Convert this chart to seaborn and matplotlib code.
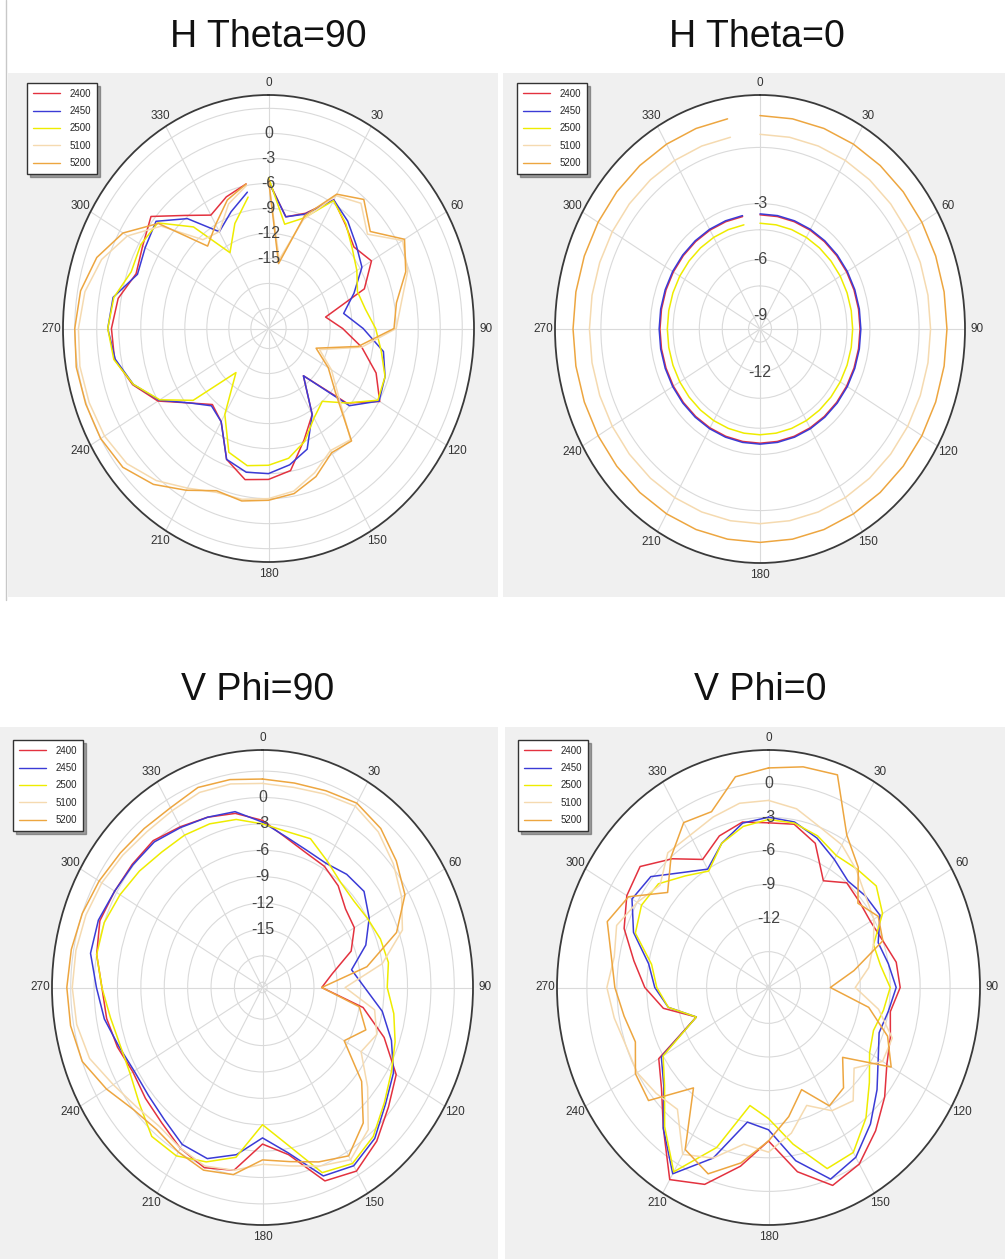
import matplotlib
matplotlib.use("Agg")
import matplotlib.pyplot as plt
import numpy as np
import pandas as pd
import seaborn as sns
from matplotlib.lines import Line2D
from matplotlib.patches import Rectangle

sns.set_style("white")
plt.rcParams['font.family'] = ['Liberation Sans', 'DejaVu Sans']
NARROW = ['Liberation Sans Narrow', 'Liberation Sans', 'DejaVu Sans']

W, H = 1005, 1259

FREQS = ["2400", "2450", "2500", "5100", "5200"]
COLORS = ["#e3323f", "#3b3bd6", "#eeec00", "#f5dab0", "#eda640"]
ANGLES = list(range(0, 360, 10))
THETA_TICKS = list(range(0, 360, 30))
THETA_LABELS = [str(a) for a in THETA_TICKS]

# H Theta=90  (dB per 10 deg, 0..350)
h90_2400 = [-5.7, -9.8, -8.7, -5.6, -7.1, -8.2, -7.2, -9.5, -15.5, -13.3, -10.5, -7.8,
            -5.9, -9.5, -16.0, -11.5, -9.2, -6.1, -5.3, -5.0, -6.7, -10.5, -11.5, -9.5,
            -6.0, -3.7, -2.1, -2.0, -2.6, -4.2, -3.6, -2.5, -5.7, -7.7, -6.6, -5.8]
h90_2450 = [-5.8, -9.8, -8.8, -5.6, -6.6, -7.8, -8.7, -11.0, -13.0, -10.5, -7.5, -6.5,
            -6.0, -9.0, -16.0, -11.5, -8.0, -6.8, -6.0, -5.9, -6.7, -10.5, -11.3, -9.5,
            -6.2, -3.8, -2.2, -1.5, -1.9, -4.4, -4.0, -3.4, -6.2, -10.0, -8.5, -6.8]
h90_2500 = [-5.3, -10.7, -9.3, -5.7, -7.0, -8.5, -9.5, -10.5, -10.0, -8.8, -7.8, -6.5,
            -6.2, -9.5, -12.0, -11.0, -9.0, -7.6, -7.0, -6.7, -7.6, -11.5, -16.5, -10.0,
            -6.3, -3.8, -2.0, -1.5, -2.0, -3.5, -3.3, -3.7, -7.5, -12.9, -10.0, -7.4]
h90_5100 = [-5.6, -15.0, -9.5, -5.0, -3.8, -5.8, -2.3, -3.2, -5.0, -6.0, -10.5, -16.0,
            -13.5, -11.0, -6.0, -6.5, -5.0, -3.6, -3.0, -2.6, -2.5, -1.3, 0.4, 1.8,
            2.4, 2.6, 2.7, 2.5, 2.0, 0.8, -1.2, -4.3, -9.5, -10.0, -7.5, -6.0]
h90_5200 = [-5.5, -15.5, -9.0, -4.8, -3.2, -5.3, -2.0, -3.5, -5.7, -6.3, -11.0, -16.5,
            -14.0, -11.5, -5.8, -6.2, -4.5, -3.3, -2.8, -2.4, -2.7, -1.0, 1.0, 2.5,
            3.0, 3.1, 3.2, 3.0, 2.6, 1.5, -0.5, -3.8, -10.5, -9.0, -7.0, -5.8]

# H Theta=0
h0_2400 = [-3.6] * 36
h0_2450 = [-3.55] * 36
h0_2500 = [-4.05] * 36
h0_5100 = [0.7] * 36
h0_5200 = [1.7] * 36

# V Phi=90
v90_2400 = [-2.6, -4.3, -5.3, -5.7, -6.5, -7.7, -8.0, -9.5, -12.5, -14.0, -8.5, -5.0,
            -1.8, -0.5, 1.2, 2.5, 1.8, -2.3, -3.8, -0.5, 0.2, -0.5, -1.5, -2.0,
            -2.4, -1.8, -1.3, -1.0, 0.0, 0.6, 0.3, 0.2, 0.2, -0.5, -1.0, -1.5]
v90_2450 = [-2.8, -4.2, -5.0, -5.3, -4.8, -4.6, -5.8, -7.5, -10.0, -8.5, -6.0, -4.0,
            -2.2, -1.0, 0.8, 1.8, 1.2, -2.5, -4.5, -2.3, -0.9, -1.0, -2.0, -2.5,
            -2.6, -2.0, -1.0, -0.3, 0.8, 0.8, 0.3, 0.1, 0.0, -0.6, -1.0, -1.3]
v90_2500 = [-3.0, -3.6, -3.6, -5.0, -6.0, -6.3, -6.0, -5.5, -5.2, -5.6, -4.5, -3.5,
            -2.5, -1.2, 0.5, 1.5, 0.8, -3.5, -6.0, -2.0, -0.5, 0.5, 0.5, -1.0,
            -2.0, -2.2, -1.8, -1.0, 0.0, 0.0, -0.5, -1.0, -1.5, -1.6, -1.8, -2.2]
v90_5100 = [1.6, 1.5, 1.8, 2.2, 1.5, 0.3, -1.0, -2.5, -6.0, -11.0, -7.0, -6.0,
            -7.0, -4.0, -0.5, 1.0, 0.0, -1.0, -1.5, -0.5, 0.0, -0.5, -1.0, -0.5,
            0.5, 2.0, 2.6, 2.8, 2.7, 2.5, 2.2, 1.8, 1.5, 1.6, 2.0, 1.9]
v90_5200 = [2.1, 2.0, 2.2, 2.6, 2.0, 0.8, -0.5, -3.3, -8.0, -14.0, -9.0, -7.5,
            -9.5, -5.0, -1.5, 0.5, -0.5, -1.5, -2.0, 0.0, 0.5, 0.0, -0.5, 0.0,
            1.5, 3.0, 3.4, 3.5, 3.3, 3.0, 2.6, 2.2, 2.0, 2.0, 2.6, 2.4]

# V Phi=0
v0_2400 = [-3.5, -3.4, -4.5, -7.2, -6.0, -6.3, -6.4, -6.0, -5.2, -5.0, -5.8, -5.2,
           -4.5, -3.0, -1.5, 0.0, 0.6, -1.5, -4.5, -2.0, 0.5, 1.6, -1.8, -4.2,
           -5.5, -10.5, -7.5, -5.8, -4.5, -2.8, -1.8, -1.4, -3.2, -5.0, -3.8, -3.2]
v0_2450 = [-3.0, -3.2, -4.0, -5.0, -5.8, -5.5, -5.3, -6.5, -6.0, -5.4, -6.0, -6.4,
           -5.5, -4.0, -2.3, -0.7, 0.0, -2.5, -5.5, -6.0, -2.0, 1.0, -1.8, -4.5,
           -5.8, -10.5, -8.0, -6.8, -6.0, -3.8, -2.4, -2.8, -4.8, -6.0, -4.5, -3.3]
v0_2500 = [-3.2, -3.3, -3.8, -4.6, -4.4, -4.1, -5.0, -7.0, -6.8, -6.0, -6.5, -7.0,
           -6.5, -5.0, -3.0, -1.2, -1.0, -4.0, -6.5, -7.5, -3.0, 0.8, -2.0, -4.6,
           -6.0, -10.5, -8.0, -7.0, -6.3, -4.0, -3.5, -3.8, -5.2, -6.2, -4.5, -3.6]
v0_5100 = [-1.5, -2.0, -3.0, -3.5, -4.5, -5.5, -6.0, -7.0, -8.0, -9.5, -7.0, -5.0,
           -5.0, -7.0, -5.0, -5.5, -7.0, -5.0, -3.5, -4.0, -2.0, -1.0, -4.0, -3.5,
           -3.0, -3.0, -2.5, -2.0, -2.5, -2.0, -3.0, -4.0, -2.5, -2.5, -2.0, -1.5]
v0_5200 = [1.4, 1.8, 2.0, -2.5, -4.2, -6.5, -5.5, -6.0, -9.5, -12.0, -8.0, -5.5,
           -4.0, -8.5, -6.5, -6.0, -8.5, -6.5, -4.5, -2.3, -0.5, -1.5, -6.5, -2.5,
           -2.8, -4.0, -3.5, -2.8, -2.2, -1.0, -2.0, -5.0, -3.0, -1.2, -1.5, 0.9]

panels = [
    dict(title="H Theta=90", tpos=(268, 37), bg=(8, 73, 498, 597), ell=(63, 95, 474, 562),
         rlim=(-23.4, 4.6), rings=[-21, -18, -15, -12, -9, -6, -3, 0, 3],
         labels=[0, -3, -6, -9, -12, -15], leg=(27, 83), closed=False,
         series=[h90_2400, h90_2450, h90_2500, h90_5100, h90_5200]),
    dict(title="H Theta=0", tpos=(757, 37), bg=(503, 73, 1005, 597), ell=(555, 95, 965, 563),
         rlim=(-9.7, 2.8), rings=[-9, -7.4, -6, -4.4, -3, 0],
         labels=[-3, -6, -9], leg=(517, 83), closed=False,
         series=[h0_2400, h0_2450, h0_2500, h0_5100, h0_5200]),
    dict(title="V Phi=90", tpos=(258, 690), bg=(0, 727, 498, 1259), ell=(52, 750, 473, 1225),
         rlim=(-21.6, 5.4), rings=[-21, -18, -15, -12, -9, -6, -3, 0, 3],
         labels=[0, -3, -6, -9, -12, -15], leg=(13, 740), closed=True,
         series=[v90_2400, v90_2450, v90_2500, v90_5100, v90_5200]),
    dict(title="V Phi=0", tpos=(760, 690), bg=(505, 727, 1005, 1259), ell=(557, 750, 980, 1225),
         rlim=(-18.2, 3.0), rings=[-18, -15, -12, -9, -6, -3, 0],
         labels=[0, -3, -6, -9, -12], leg=(518, 740), closed=True,
         series=[v0_2400, v0_2450, v0_2500, v0_5100, v0_5200]),
]

fig = plt.figure(figsize=(W / 100, H / 100), dpi=100)
fig.patch.set_facecolor("white")
fig.add_artist(Line2D([6 / W, 6 / W], [1, 1 - 600 / H], color="#c8c8c8", lw=1))

for p in panels:
    x0, y0, x1, y1 = p["bg"]
    fig.add_artist(Rectangle((x0 / W, 1 - y1 / H), (x1 - x0) / W, (y1 - y0) / H,
                             transform=fig.transFigure, facecolor="#f0f0f0",
                             edgecolor="none", zorder=-5))
    fig.text(p["tpos"][0] / W, 1 - p["tpos"][1] / H, p["title"], ha="center",
             va="center", fontsize=27, color="#111111")

    ex0, ey0, ex1, ey1 = p["ell"]
    ax = fig.add_axes([ex0 / W, 1 - ey1 / H, (ex1 - ex0) / W, (ey1 - ey0) / H],
                      projection="polar")
    ax.set_aspect("auto")
    ax.set_theta_zero_location("N")
    ax.set_theta_direction(-1)
    ax.set_facecolor("white")

    rows = []
    for freq, vals in zip(FREQS, p["series"]):
        ang = list(ANGLES)
        v = list(vals)
        if p["closed"]:
            ang = ang + [360]
            v = v + [v[0]]
        for a, g in zip(ang, v):
            rows.append({"theta": np.deg2rad(a), "gain": g, "freq": freq})
    df = pd.DataFrame(rows)
    sns.lineplot(data=df, x="theta", y="gain", hue="freq", hue_order=FREQS,
                 palette=COLORS, sort=False, estimator=None, lw=1.1, ax=ax)

    ax.set_ylim(*p["rlim"])
    ax.set_yticks(p["rings"])
    ax.set_yticklabels([])
    ax.set_thetagrids(THETA_TICKS, THETA_LABELS, fontsize=8.5, color="#333333",
                      family=NARROW)
    ax.tick_params(axis="x", pad=-2)
    ax.grid(color="#dadada", lw=0.8)
    ax.spines["polar"].set_color("#3a3a3a")
    ax.spines["polar"].set_linewidth(1.3)
    ax.set_xlabel("")
    ax.set_ylabel("")

    for v in p["labels"]:
        if v < p["rlim"][0]:
            continue
        ax.text(0, v, str(v), ha="center", va="center", fontsize=11.5,
                color="#444444", family=NARROW)
    if p["title"] == "H Theta=0":
        ax.text(np.pi, 2 * p["rlim"][0] + 12, "-12", ha="center", va="center",
                fontsize=11.5, color="#444444", family=NARROW)

    handles, labels = ax.get_legend_handles_labels()
    for h in handles:
        h.set_linewidth(1.0)
    ax.legend(handles, labels, loc="upper left",
              bbox_to_anchor=(p["leg"][0] / W, 1 - p["leg"][1] / H),
              bbox_transform=fig.transFigure, fontsize=7, frameon=True,
              fancybox=False, shadow=True, framealpha=1, edgecolor="#333333",
              handlelength=2.8, borderpad=0.6, labelspacing=0.75,
              handletextpad=1.0, borderaxespad=0)

fig.savefig("out.png", dpi=100)
